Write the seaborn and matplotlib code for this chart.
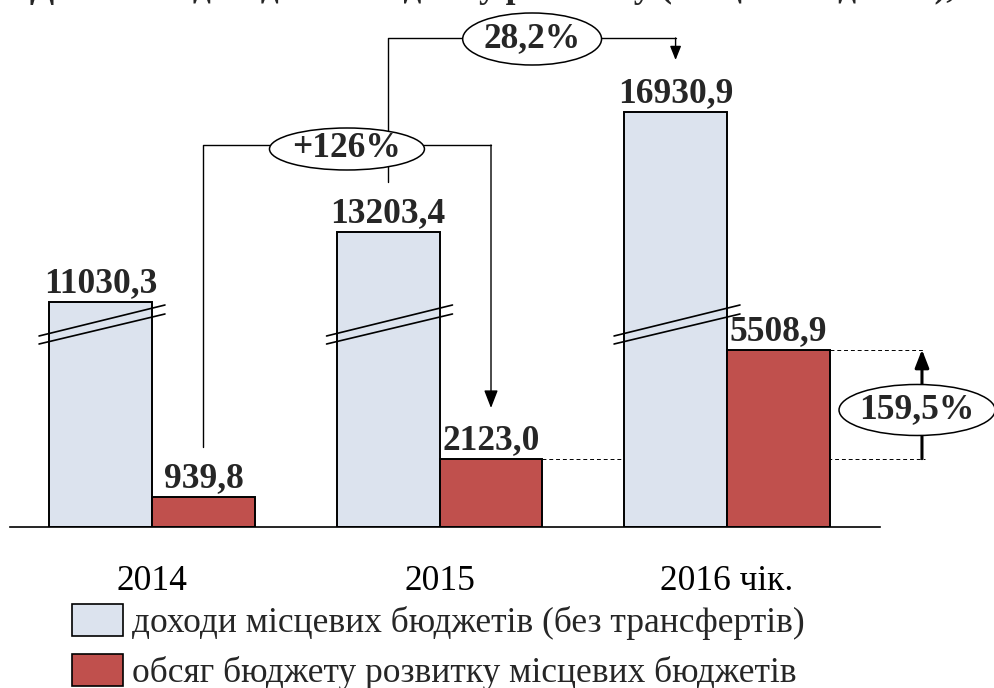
import matplotlib
matplotlib.use("Agg")
import matplotlib.pyplot as plt
import seaborn as sns
import pandas as pd
from matplotlib.patches import Ellipse, Patch

# ---------------- data ----------------
years = ["2014", "2015", "2016 чік."]
revenue = [11030.3, 13203.4, 16930.9]          # доходи місцевих бюджетів (без трансфертів)
development = [939.8, 2123.0, 5508.9]          # обсяг бюджету розвитку
revenue_label = "доходи місцевих бюджетів (без трансфертів)"
development_label = "обсяг бюджету розвитку місцевих бюджетів"
growth_dev_14_15 = "+126%"
growth_rev_15_16 = "28,2%"
growth_dev_15_16 = "159,5%"
title_text = "Динаміка доходів та бюджету розвитку (місцеві бюджети), млн. грн"

# amount removed by the axis break on the revenue bars
BREAK = 4040

BLUE = "#DCE3EE"
RED = "#C0504D"

def fmt(v):
    return f"{v:.1f}".replace(".", ",")

sns.set_theme(style="white")
plt.rcParams["font.family"] = ["Liberation Serif", "DejaVu Serif"]

df = pd.DataFrame({
    "year": years * 2,
    "series": [revenue_label] * 3 + [development_label] * 3,
    "value": [v - BREAK for v in revenue] + development,
})

W, H = 995, 688
fig = plt.figure(figsize=(W / 100, H / 100), dpi=100)
ax = fig.add_axes([10 / W, (H - 527) / H, 870 / W, 527 / H])

BAR_W = 0.716
sns.barplot(data=df, x="year", y="value", hue="series", order=years,
            hue_order=[revenue_label, development_label],
            palette=[BLUE, RED], saturation=1, width=BAR_W,
            edgecolor="black", linewidth=1.4, legend=False, ax=ax, zorder=2)

FS = 25.5
ax.set_xlim(-0.494, 2.532)
ax.set_ylim(0, 16366)
ax.set_xlabel("")
ax.set_ylabel("")
ax.set_yticks([])
for s in ["left", "right", "top"]:
    ax.spines[s].set_visible(False)
ax.spines["bottom"].set_color("black")
ax.spines["bottom"].set_linewidth(1.2)
ax.set_xticks(range(len(years)))
ax.set_xticklabels(years, fontsize=FS)
ax.tick_params(axis="x", length=0, pad=27, colors="black")

half = BAR_W / 2

# value labels
for i, v in enumerate(revenue):
    ax.annotate(fmt(v), xy=(i - half / 2, v - BREAK), xytext=(0, 10),
                textcoords="offset pixels", ha="center", va="baseline",
                fontsize=FS, fontweight="bold")
for i, v in enumerate(development):
    ax.annotate(fmt(v), xy=(i + half / 2, v), xytext=(0, 10),
                textcoords="offset pixels", ha="center", va="baseline",
                fontsize=FS, fontweight="bold")

# axis-break marks on the revenue bars
for i in range(len(years)):
    x0, x1 = i - half - 0.035, i + 0.045
    ax.plot([x0, x1], [5932, 6894], color="black", lw=1.2, zorder=3, clip_on=False)
    ax.plot([x0, x1], [5683, 6615], color="black", lw=1.2, zorder=3, clip_on=False)

LW = 1.0
arrow_kw = dict(arrowstyle="-|>,head_length=0.9,head_width=0.35", lw=LW,
                color="black", shrinkA=0, shrinkB=0)

def ellipse_label(xc, yc, w, h, text):
    e = Ellipse((xc, yc), w, h, facecolor="white", edgecolor="black",
                lw=1.1, zorder=6, clip_on=False)
    ax.add_patch(e)
    ax.text(xc, yc, text, ha="center", va="center", fontsize=FS,
            fontweight="bold", zorder=7, clip_on=False)

# +126% bracket (development 2014 -> 2015)
xa, xb = 0 + half / 2, 1 + half / 2
lvl = 11863
ax.plot([xa, xa, xb], [2484, lvl, lvl], color="black", lw=LW, zorder=4, clip_on=False)
ax.annotate("", xy=(xb, development[1] + 1573), xytext=(xb, lvl),
            arrowprops=arrow_kw, zorder=4, annotation_clip=False)
ellipse_label(0.678, 11739, 0.539, 1304, growth_dev_14_15)

# 28,2% bracket (revenue 2015 -> 2016)
xc, xd = 1 - half / 2, 2 - half / 2
lvl2 = 15186
ax.plot([xc, xc, xd], [10714, lvl2, lvl2], color="black", lw=LW, zorder=4, clip_on=False)
ax.annotate("", xy=(xd, 14503), xytext=(xd, lvl2),
            arrowprops=dict(arrowstyle="-|>,head_length=0.7,head_width=0.28",
                            lw=LW, color="black", shrinkA=0, shrinkB=0),
            zorder=4, annotation_clip=False)
ellipse_label(1.322, 15155, 0.483, 1615, growth_rev_15_16)

# 159,5% (development 2015 -> 2016)
xr = 2.689
ax.plot([2 + half, xr], [development[2]] * 2, color="black", lw=0.7,
        ls=(0, (4, 3)), zorder=1, clip_on=False)
ax.plot([1 + half, xr], [development[1]] * 2, color="black", lw=0.7,
        ls=(0, (4, 3)), zorder=1, clip_on=False)
ax.annotate("", xy=(2.678, development[2]), xytext=(2.678, development[1]),
            arrowprops=dict(arrowstyle="-|>,head_length=0.9,head_width=0.35",
                            lw=2.2, color="black", shrinkA=0, shrinkB=0),
            zorder=4, annotation_clip=False)
ellipse_label(2.661, 3634, 0.543, 1584, growth_dev_15_16)

# title (cut off at the top of the picture, as in the source)
fig.text(30 / W, 1 + 3 / H, title_text, ha="left", va="baseline",
         fontsize=FS, fontweight="bold")

# legend
handles = [Patch(facecolor=BLUE, edgecolor="black", lw=1.2),
           Patch(facecolor=RED, edgecolor="black", lw=1.2)]
fig.legend(handles, [revenue_label, development_label], loc="upper left",
           bbox_to_anchor=(72 / W, 1 - 604 / H), frameon=False, fontsize=FS,
           handlelength=1.45, handleheight=1.0, handletextpad=0.25,
           labelspacing=0.4, borderpad=0, borderaxespad=0)

fig.savefig("out.png", dpi=100)
